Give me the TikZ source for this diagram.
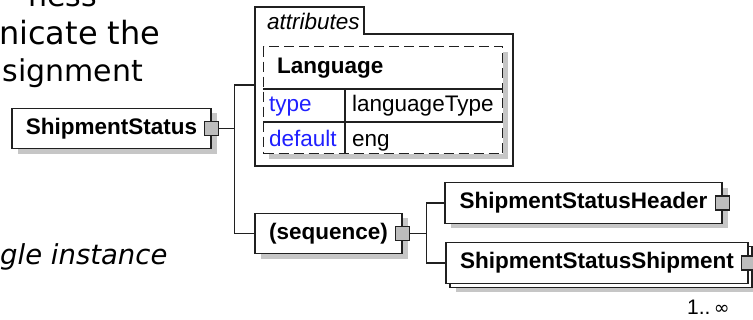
\documentclass[tikz,border=0pt]{standalone}
\usepackage{fontspec}
\setmainfont{Liberation Sans}
\newfontfamily\verd{DejaVu Sans}
\usetikzlibrary{shadows}
\definecolor{linec}{HTML}{202020}
\definecolor{shad}{HTML}{C6C6C6}
\definecolor{sqfill}{HTML}{BDBDBD}
\definecolor{attblue}{HTML}{2020FF}
\begin{document}
\begin{tikzpicture}[x=1pt,y=-1pt,
  boxbase/.style={draw=linec, line width=1.4pt, fill=white, inner sep=0pt,
    minimum height=40.5pt, font=\fontsize{22.5}{26}\selectfont\bfseries, text=black},
  elbox/.style={boxbase, drop shadow={shadow xshift=6pt, shadow yshift=-5pt, fill=shad, opacity=1}},
  sqbox/.style={draw=linec, line width=1.2pt, fill=sqfill, minimum width=14pt, minimum height=14pt, inner sep=0pt},
  conn/.style={draw=linec, line width=1.3pt},
  bigtext/.style={inner sep=0pt, anchor=base west, text=black},
  attrtext/.style={inner sep=0pt, anchor=base west, font=\fontsize{22.5}{26}\selectfont},
]
\useasboundingbox (0,0) rectangle (753,320);
\clip (0,0) rectangle (753,320);
\fill[white] (0,0) rectangle (753,320);

% left text fragments
\node[bigtext, font=\verd\fontsize{30}{36}\selectfont] (frag1) at (28,7) {ness};
\node[bigtext, font=\verd\fontsize{32}{36}\selectfont] (frag2) at (-1,45) {nicate the};
\node[bigtext, font=\verd\fontsize{30}{36}\selectfont] (frag3) at (2.5,82) {signment};
\node[bigtext, font=\verd\itshape\fontsize{27.5}{36}\selectfont] (frag4) at (0,265) {gle instance};

% attributes group
\path[draw=linec, line width=1.3pt, fill=white]
  (255,7) -- (364,7) -- (364,34) -- (513,34) -- (513,166) -- (255,166) -- cycle;
\node[attrtext, font=\fontsize{22.5}{26}\selectfont\itshape] (attrlbl) at (267,30) {attributes};
\coordinate (attrin) at (255,85);

\node[draw=linec, line width=1.3pt, dash pattern=on 10pt off 5pt, fill=white, anchor=north west,
  minimum width=239pt, minimum height=107pt, inner sep=0pt,
  drop shadow={shadow xshift=5pt, shadow yshift=-5pt, fill=shad, opacity=1}] (lang) at (263,46) {};
\coordinate (hl1) at (263,89);
\coordinate (hl2) at (263,122);
\coordinate (col) at (345,89);
\draw[conn, line width=1.2pt] (hl1) -- (hl1 -| lang.east);
\draw[conn, line width=1.2pt] (hl2) -- (hl2 -| lang.east);
\draw[conn, line width=1.2pt] (col) -- (col |- lang.south);
\node[attrtext, font=\fontsize{22.5}{26}\selectfont\bfseries] (langlbl) at (277,74) {Language};
\node[attrtext, text=attblue] (typek) at (269,112) {type};
\node[attrtext] (typev) at (352,112) {languageType};
\node[attrtext, text=attblue] (defk) at (269,146.5) {default};
\node[attrtext] (defv) at (352,146.5) {eng};

% elements
\node[elbox, minimum width=199pt] (ss) at (111.5,128.5) {ShipmentStatus};
\node[sqbox] (sssq) at (ss.east) {};
\node[elbox, minimum width=147pt] (seq) at (328.5,233.5) {(sequence)};
\node[sqbox] (seqsq) at (seq.east) {};
\node[elbox, minimum width=277pt] (hdr) at (583.5,203) {ShipmentStatusHeader};
\node[sqbox] (hdrsq) at (hdr.east) {};
\node[elbox, minimum width=302pt] (shpback) at (601,267) {};
\node[boxbase, minimum width=302pt] (shp) at (597,263) {ShipmentStatusShipment};
\node[sqbox] (shpsq) at (shp.east) {};
\node[inner sep=0pt, anchor=base east, font=\fontsize{21}{24}\selectfont] (mult) at (730,315) {1..\,{\verd\fontsize{19}{24}\selectfont ∞}};

% connectors
\draw[conn] (sssq.east) -- ++(15,0) coordinate (tr1);
\draw[conn] (attrin) -| (tr1) |- (seq.west);
\draw[conn] (seqsq.east) -- ++(16,0) coordinate (tr2);
\draw[conn] (hdr.west) -| (tr2) |- (shp.west);
\end{tikzpicture}
\end{document}
